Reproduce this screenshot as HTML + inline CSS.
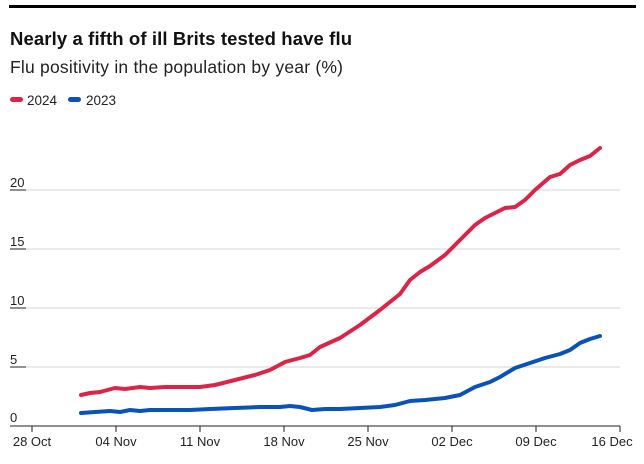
<!DOCTYPE html>
<html><head><meta charset="utf-8"><style>
body{margin:0;background:#fff;width:644px;height:459px;overflow:hidden;font-family:"Liberation Sans",sans-serif}
</style></head><body>
<svg width="644" height="459" xmlns="http://www.w3.org/2000/svg" font-family="Liberation Sans, sans-serif">
<rect x="9" y="5" width="627" height="3" fill="#000"/>
<text x="10" y="45" font-size="18.5" font-weight="bold" fill="#111" textLength="342">Nearly a fifth of ill Brits tested have flu</text>
<text x="10" y="73" font-size="17.5" fill="#222" textLength="333">Flu positivity in the population by year (%)</text>
<rect x="10" y="97" width="13" height="5" rx="2.5" fill="#dc2449"/>
<text x="27" y="105" font-size="13.5" fill="#222">2024</text>
<rect x="68" y="97" width="13" height="5" rx="2.5" fill="#0a52b7"/>
<text x="86" y="105" font-size="13.5" fill="#222">2023</text>
<g stroke="#d4d4d4" stroke-width="1">
<line x1="10" y1="249" x2="620" y2="249"/>
<line x1="10" y1="308" x2="620" y2="308"/>
<line x1="10" y1="367" x2="620" y2="367"/>
<line x1="10" y1="190" x2="620" y2="190"/>
</g>
<g stroke="#222" stroke-width="1">
<line x1="10" y1="190" x2="26" y2="190"/><line x1="10" y1="249" x2="26" y2="249"/><line x1="10" y1="308" x2="26" y2="308"/><line x1="10" y1="367" x2="26" y2="367"/>
<line x1="10" y1="426" x2="620" y2="426"/>
<line x1="32" y1="426" x2="32" y2="432"/><line x1="116" y1="426" x2="116" y2="432"/><line x1="200" y1="426" x2="200" y2="432"/><line x1="284" y1="426" x2="284" y2="432"/><line x1="368" y1="426" x2="368" y2="432"/><line x1="452" y1="426" x2="452" y2="432"/><line x1="536" y1="426" x2="536" y2="432"/><line x1="620" y1="426" x2="620" y2="432"/>
</g>
<g font-size="13" fill="#222">
<text x="10" y="187">20</text><text x="10" y="246">15</text><text x="10" y="305">10</text><text x="10" y="364">5</text><text x="10" y="422">0</text>
</g>
<g font-size="13" fill="#222" text-anchor="middle">
<text x="32" y="446">28 Oct</text><text x="116" y="446">04 Nov</text><text x="200" y="446">11 Nov</text><text x="284" y="446">18 Nov</text><text x="368" y="446">25 Nov</text><text x="452" y="446">02 Dec</text><text x="536" y="446">09 Dec</text><text x="612" y="446">16 Dec</text>
</g>
<polyline fill="none" stroke="#dc2449" stroke-width="4" stroke-linejoin="round" stroke-linecap="round" points="81,395 90,393 100,392 115,388 125,389 140,387 150,388 165,387 200,387 215,385 235,380 255,375 270,370 285,362 300,358 310,355 320,347 340,338 360,325 380,310 395,298 400,294 410,280 420,272 430,266 445,255 460,240 475,225 485,218 495,213 505,208 515,207 525,200 535,190 550,177 560,174 570,165 580,160 590,156 600,148"/>
<polyline fill="none" stroke="#0a52b7" stroke-width="4" stroke-linejoin="round" stroke-linecap="round" points="81,413 95,412 110,411 120,412 130,410 140,411 150,410 190,410 210,409 235,408 260,407 280,407 290,406 300,407 312,410 325,409 340,409 360,408 380,407 395,405 410,401 425,400 445,398 460,395 475,387 490,382 500,377 515,368 530,363 545,358 560,354 570,350 580,343 590,339 600,336"/>
</svg>
</body></html>
